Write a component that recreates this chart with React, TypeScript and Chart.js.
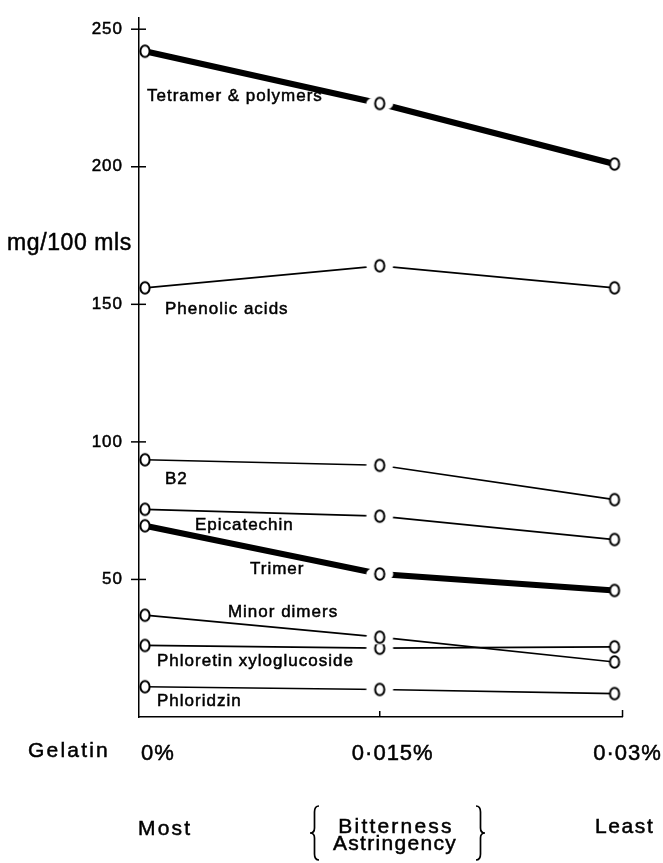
import React, { useEffect, useRef } from 'react';
import { Chart, registerables } from 'chart.js';

Chart.register(...registerables);

// ---- data ----
const gelatinLevels = [0, 0.015, 0.03];
const gelatinTickLabels = ['0%', '0·015%', '0·03%'];
const yTickValues = [50, 100, 150, 200, 250];

const tetramerPolymers = [242, 223, 201];
const phenolicAcids = [156, 164, 156];
const procyanidinB2 = [93.5, 91.5, 79];
const epicatechin = [75.5, 73, 64.5];
const trimer = [69.5, 52, 46];
const minorDimers = [37, 29, 20];
const phloretinXyloglucoside = [26, 25, 25.5];
const phloridzin = [11, 10, 8.5];

const seriesNames = [
  'Tetramer & polymers',
  'Phenolic acids',
  'B2',
  'Epicatechin',
  'Trimer',
  'Minor dimers',
  'Phloretin xyloglucoside',
  'Phloridzin',
];
const seriesValues = [
  tetramerPolymers,
  phenolicAcids,
  procyanidinB2,
  epicatechin,
  trimer,
  minorDimers,
  phloretinXyloglucoside,
  phloridzin,
];
const heavySeries = ['Tetramer & polymers', 'Trimer'];

// label anchors (left edge, vertical middle) in data units
const labelAnchorX = [0.00013, 0.00128, 0.00128, 0.00319, 0.00671, 0.0053, 0.00077, 0.00077];
const labelAnchorY = [225.6, 148.3, 86.5, 69.8, 53.5, 38.0, 20.3, 5.8];

const FONT = '"Liberation Sans", Arial, Helvetica, sans-serif';

function makeMarker(halo: boolean): HTMLCanvasElement {
  const w = halo ? 30 : 14;
  const h = halo ? 18 : 16;
  const c = document.createElement('canvas');
  c.width = w;
  c.height = h;
  const g = c.getContext('2d')!;
  if (halo) {
    g.fillStyle = '#fff';
    g.beginPath();
    g.ellipse(w / 2, h / 2, 13.5, 7.5, 0, 0, Math.PI * 2);
    g.fill();
  }
  g.beginPath();
  g.ellipse(w / 2, h / 2, 4.6, 5.8, 0, 0, Math.PI * 2);
  g.fillStyle = '#fff';
  g.fill();
  g.lineWidth = 2;
  g.strokeStyle = '#000';
  g.stroke();
  return c;
}

function drawBrace(ctx: CanvasRenderingContext2D, armX: number, tipX: number, top: number, bottom: number) {
  const mid = (top + bottom) / 2;
  const cx = (armX + tipX) / 2;
  ctx.beginPath();
  ctx.moveTo(armX, top);
  ctx.quadraticCurveTo(cx, top, cx, top + 6);
  ctx.lineTo(cx, mid - 5);
  ctx.quadraticCurveTo(cx, mid, tipX, mid);
  ctx.quadraticCurveTo(cx, mid, cx, mid + 5);
  ctx.lineTo(cx, bottom - 6);
  ctx.quadraticCurveTo(cx, bottom, armX, bottom);
  ctx.stroke();
}

function boldText(ctx: CanvasRenderingContext2D, text: string, x: number, y: number) {
  ctx.fillText(text, x, y);
  ctx.strokeText(text, x, y);
}

const annotationPlugin = {
  id: 'annotations',
  beforeDraw(chart: any) {
    chart.ctx.letterSpacing = '1px';
  },
  afterDraw(chart: any) {
    const ctx: CanvasRenderingContext2D = chart.ctx;
    const xs = chart.scales.x;
    const ys = chart.scales.y;
    const area = chart.chartArea;
    ctx.save();
    ctx.strokeStyle = '#000';
    ctx.fillStyle = '#000';
    ctx.lineWidth = 1.5;
    // y tick crosses
    yTickValues.forEach((v) => {
      const y = ys.getPixelForValue(v);
      ctx.beginPath();
      ctx.moveTo(area.left - 8, y);
      ctx.lineTo(area.left + 7, y);
      ctx.stroke();
    });
    // x ticks (inward)
    const xm = xs.getPixelForValue(gelatinLevels[1]);
    ctx.beginPath();
    ctx.moveTo(xm, area.bottom);
    ctx.lineTo(xm, area.bottom - 6);
    ctx.moveTo(area.right, area.bottom);
    ctx.lineTo(area.right, area.bottom - 7);
    ctx.stroke();

    ctx.lineWidth = 0.5;
    ctx.textBaseline = 'alphabetic';
    // y-axis title
    ctx.font = `23px ${FONT}`;
    (ctx as any).letterSpacing = '0.6px';
    ctx.textAlign = 'left';
    boldText(ctx, 'mg/100 mls', 7, 250);

    // series labels
    ctx.font = `17px ${FONT}`;
    (ctx as any).letterSpacing = '1px';
    ctx.textBaseline = 'middle';
    seriesNames.forEach((name, i) => {
      const x = xs.getPixelForValue(labelAnchorX[i]);
      const y = ys.getPixelForValue(labelAnchorY[i]);
      boldText(ctx, name, x, y);
    });

    // bottom texts
    ctx.textBaseline = 'alphabetic';
    ctx.font = `21px ${FONT}`;
    (ctx as any).letterSpacing = '2.2px';
    ctx.textAlign = 'left';
    boldText(ctx, 'Gelatin', 28, 757);
    boldText(ctx, 'Most', 138, 835);
    (ctx as any).letterSpacing = '1.6px';
    boldText(ctx, 'Least', 595, 833);
    ctx.textAlign = 'center';
    (ctx as any).letterSpacing = '2.2px';
    boldText(ctx, 'Bitterness', 396, 833);
    (ctx as any).letterSpacing = '1.3px';
    boldText(ctx, 'Astringency', 395, 850);

    ctx.lineWidth = 1.7;
    drawBrace(ctx, 319, 310, 806, 860);
    drawBrace(ctx, 476, 485, 806, 860);
    ctx.restore();
    (ctx as any).letterSpacing = '0px';
  },
};

export default function App() {
  const canvasRef = useRef<HTMLCanvasElement | null>(null);

  useEffect(() => {
    if (!canvasRef.current) return;
    const plain = makeMarker(false);
    const halo = makeMarker(true);

    const datasets = seriesNames.map((name, i) => ({
      label: name,
      data: gelatinLevels.map((x, j) => ({ x, y: seriesValues[i][j] })),
      borderColor: '#000',
      backgroundColor: '#fff',
      borderWidth: heavySeries.includes(name) ? 6 : 1.7,
      pointStyle: [plain, halo, plain],
      pointRadius: 5,
      tension: 0,
      fill: false,
      clip: false as any,
    }));

    const chart = new Chart(canvasRef.current, {
      type: 'line',
      data: { datasets },
      options: {
        animation: false,
        responsive: true,
        maintainAspectRatio: false,
        layout: { padding: { top: 15, right: 40, left: 0, bottom: 0 } },
        plugins: {
          legend: { display: false },
          tooltip: { enabled: false },
          title: { display: false },
        },
        scales: {
          x: {
            type: 'linear',
            min: -0.00038,
            max: 0.03051,
            afterBuildTicks: (s: any) => {
              s.ticks = gelatinLevels.map((v) => ({ value: v }));
            },
            afterFit: (s: any) => {
              s.height = 146;
            },
            grid: { display: false },
            border: { display: true, color: '#000', width: 1.5 },
            ticks: {
              autoSkip: false,
              maxRotation: 0,
              color: '#000',
              padding: 16,
              labelOffset: 13,
              textStrokeColor: '#000',
              textStrokeWidth: 0.5,
              font: { family: FONT, size: 22 },
              callback: (_v: any, i: number) => gelatinTickLabels[i],
            },
          },
          y: {
            type: 'linear',
            min: 0,
            max: 254,
            afterBuildTicks: (s: any) => {
              s.ticks = yTickValues.map((v) => ({ value: v }));
            },
            afterFit: (s: any) => {
              s.width = 139;
            },
            grid: { display: false },
            border: { display: true, color: '#000', width: 1.5 },
            ticks: {
              color: '#000',
              padding: 8,
              textStrokeColor: '#000',
              textStrokeWidth: 0.5,
              font: { family: FONT, size: 17 },
              callback: (v: any) => String(v),
            },
          },
        },
      },
      plugins: [annotationPlugin],
    });
    return () => chart.destroy();
  }, []);

  return (
    <div style={{ position: 'absolute', left: 0, top: 0, width: 663, height: 863, background: '#fff' }}>
      <canvas ref={canvasRef} />
    </div>
  );
}
